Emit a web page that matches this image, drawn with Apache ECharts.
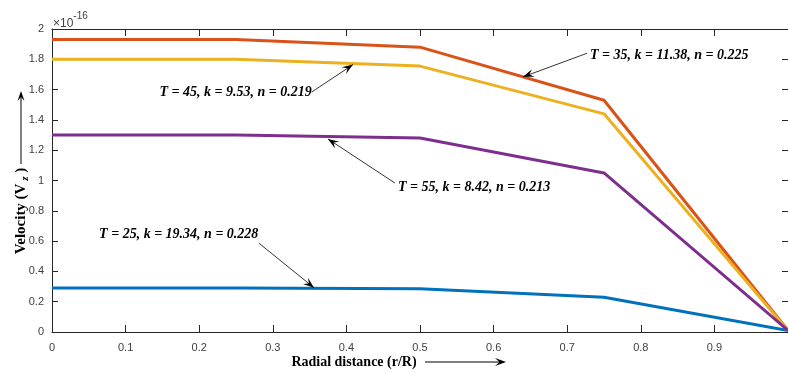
<!DOCTYPE html>
<html><head><meta charset="utf-8">
<script src="https://cdn.jsdelivr.net/npm/echarts@6/dist/echarts.min.js"></script>
<style>html,body{margin:0;padding:0;background:#fff}#c{width:788px;height:372px}</style>
</head><body><div id="c"></div>
<script>
const radial = [0, 0.25, 0.5, 0.75, 1];
const vT25 = [0.29, 0.29, 0.285, 0.23, 0.01];
const vT35 = [1.93, 1.93, 1.88, 1.53, 0.01];
const vT45 = [1.80, 1.80, 1.755, 1.44, 0.01];
const vT55 = [1.30, 1.30, 1.28, 1.05, 0.01];
const seriesNames = ['T = 25', 'T = 35', 'T = 45', 'T = 55'];
const seriesColors = ['#0072BD', '#D95319', '#EDB120', '#7E2F8E'];
const xTicks = [0, 0.1, 0.2, 0.3, 0.4, 0.5, 0.6, 0.7, 0.8, 0.9];
const yTicks = [0, 0.2, 0.4, 0.6, 0.8, 1, 1.2, 1.4, 1.6, 1.8, 2];
// annotations: text, text anchor (data), alignment, arrow start (data), arrow tip (data)
const annotations = [
  {text: 'T = 35, k = 11.38, n = 0.225', at: [0.731, 1.828], align: 'left', from: [0.727, 1.84], to: [0.64, 1.684]},
  {text: 'T = 45, k = 9.53, n = 0.219', at: [0.353, 1.584], align: 'right', from: [0.353, 1.584], to: [0.409, 1.765]},
  {text: 'T = 55, k = 8.42, n = 0.213', at: [0.470, 0.957], align: 'left', from: [0.466, 0.983], to: [0.375, 1.274]},
  {text: 'T = 25, k = 19.34, n = 0.228', at: [0.064, 0.647], align: 'left', from: [0.281, 0.587], to: [0.356, 0.292]}
];

const chart = echarts.init(document.getElementById('c'));
const all = [vT25, vT35, vT45, vT55];
const axColor = '#262626';
const lblStyle = {color: '#404040', fontFamily: 'Liberation Sans, Arial', fontSize: 11};
chart.setOption({
  animation: false,
  backgroundColor: '#fff',
  grid: {left: 52, top: 29, right: 0, bottom: 40},
  xAxis: [{
    type: 'value', min: 0, max: 1, interval: 0.1,
    axisLine: {show: true, lineStyle: {color: axColor, width: 1}},
    axisTick: {show: true, inside: true, length: 7, lineStyle: {color: axColor}},
    axisLabel: Object.assign({margin: 10, showMaxLabel: false,
      formatter: v => xTicks.some(t => Math.abs(t - v) < 1e-9) ? String(+v.toFixed(1)) : ''}, lblStyle),
    splitLine: {show: false}
  }, {
    type: 'value', min: 0, max: 1, interval: 0.1, position: 'top',
    axisLine: {show: true, onZero: false, lineStyle: {color: axColor, width: 1}},
    axisTick: {show: true, inside: true, length: 7, lineStyle: {color: axColor}},
    axisLabel: {show: false}, splitLine: {show: false}
  }],
  yAxis: [{
    type: 'value', min: 0, max: 2, interval: 0.2,
    axisLine: {show: true, lineStyle: {color: axColor, width: 1}},
    axisTick: {show: true, inside: true, length: 6, lineStyle: {color: axColor}},
    axisLabel: Object.assign({margin: 8,
      formatter: v => yTicks.some(t => Math.abs(t - v) < 1e-9) ? String(+v.toFixed(1)) : ''}, lblStyle),
    splitLine: {show: false}
  }, {
    type: 'value', min: 0, max: 2, interval: 0.2, position: 'right',
    axisLine: {show: true, onZero: false, lineStyle: {color: axColor, width: 1}},
    axisTick: {show: true, inside: true, length: 6, lineStyle: {color: axColor}},
    axisLabel: {show: false}, splitLine: {show: false}
  }],
  series: all.map((vals, i) => ({
    name: seriesNames[i], type: 'line', symbol: 'none',
    data: radial.map((r, j) => [r, vals[j]]),
    lineStyle: {color: seriesColors[i], width: 3},
    z: 3
  }))
});

function arrowHead(p, q, len, wid) {
  const dx = q[0] - p[0], dy = q[1] - p[1];
  const L = Math.hypot(dx, dy), ux = dx / L, uy = dy / L;
  const bx = q[0] - ux * len, by = q[1] - uy * len;
  const nx = -uy * wid / 2, ny = ux * wid / 2;
  const ix = q[0] - ux * len * 0.6, iy = q[1] - uy * len * 0.6;
  return [[q[0], q[1]], [bx + nx, by + ny], [ix, iy], [bx - nx, by - ny]];
}
const g = [];
const annFont = 'italic bold 14px "Liberation Serif", "Times New Roman", serif';
annotations.forEach(a => {
  const t = chart.convertToPixel({xAxisIndex: 0, yAxisIndex: 0}, a.at);
  const f = chart.convertToPixel({xAxisIndex: 0, yAxisIndex: 0}, a.from);
  const to = chart.convertToPixel({xAxisIndex: 0, yAxisIndex: 0}, a.to);
  g.push({type: 'text', x: t[0], y: t[1], z: 10,
    style: {text: a.text, font: annFont, fill: '#000', align: a.align, verticalAlign: 'middle'}});
  g.push({type: 'line', z: 10, shape: {x1: f[0], y1: f[1], x2: to[0], y2: to[1]},
    style: {stroke: '#000', lineWidth: 0.8}});
  g.push({type: 'polygon', z: 10, shape: {points: arrowHead(f, to, 11, 8)}, style: {fill: '#000'}});
});
// exponent label
g.push({type: 'text', x: 53, y: 11, style: {
  text: '{a|×10}{b|-16}', rich: {
    a: {font: '12px "Liberation Sans", Arial', fill: '#404040', verticalAlign: 'bottom', padding: [7, 0, 0, 0]},
    b: {font: '10px "Liberation Sans", Arial', fill: '#404040', verticalAlign: 'top'}
  }}});
// y axis title
g.push({type: 'text', x: 21, y: 211, rotation: Math.PI / 2, style: {
  text: '{a|Velocity (V}{s| z}{a| )}', align: 'center', verticalAlign: 'middle', rich: {
    a: {font: 'bold 15px "Liberation Serif", "Times New Roman", serif', fill: '#000'},
    s: {font: 'bold italic 11px "Liberation Serif", serif', fill: '#000', padding: [8, 0, 0, 0]}
  }}});
g.push({type: 'line', shape: {x1: 21, y1: 164, x2: 21, y2: 96}, style: {stroke: '#000', lineWidth: 1}});
g.push({type: 'polygon', shape: {points: arrowHead([21, 164], [21, 91], 10, 7)}, style: {fill: '#000'}});
// x axis title
g.push({type: 'text', x: 354, y: 362, style: {
  text: 'Radial distance (r/R)', align: 'center', verticalAlign: 'middle',
  font: 'bold 14px "Liberation Serif", "Times New Roman", serif', fill: '#000'}});
g.push({type: 'line', shape: {x1: 425, y1: 362, x2: 500, y2: 362}, style: {stroke: '#000', lineWidth: 1}});
g.push({type: 'polygon', shape: {points: arrowHead([425, 362], [506, 362], 11, 8)}, style: {fill: '#000'}});
chart.setOption({graphic: g});
</script></body></html>
